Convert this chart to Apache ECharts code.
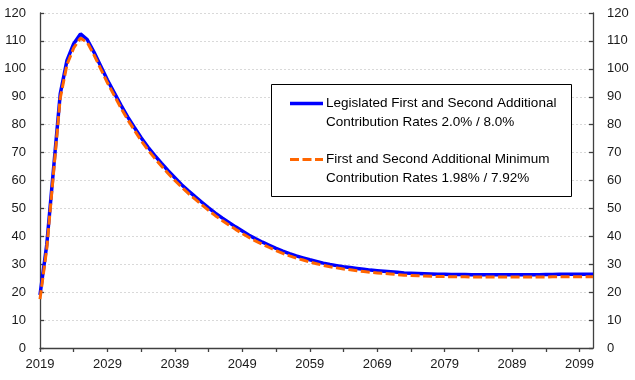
<!DOCTYPE html>
<html>
<head>
<meta charset="utf-8">
<script src="https://cdn.jsdelivr.net/npm/echarts@6/dist/echarts.min.js"></script>
<style>
html,body{margin:0;padding:0;background:#fff;}
#chart{width:635px;height:380px;}
</style>
</head>
<body>
<div id="chart"></div>
<script>
var years = [];
for (var y = 2019; y <= 2101; y++) years.push(String(y));

var seriesNames = [
  'Legislated First and Second Additional\nContribution Rates 2.0% / 8.0%',
  'First and Second Additional Minimum\nContribution Rates 1.98% / 7.92%'
];

var legislated = [
  19, 37, 64, 91, 103, 109, 112.5, 110.5, 106, 101,
  96, 91.5, 87, 82.8, 79, 75.3, 72, 69, 66.2, 63.5,
  61, 58.5, 56.3, 54.2, 52.2, 50.2, 48.3, 46.6, 45, 43.4,
  41.9, 40.4, 39.1, 37.9, 36.8, 35.7, 34.7, 33.8, 33, 32.3,
  31.6, 31, 30.4, 29.9, 29.5, 29.1, 28.8, 28.5, 28.2, 27.9,
  27.7, 27.5, 27.3, 27.1, 26.9, 26.8, 26.7, 26.6, 26.5, 26.4,
  26.4, 26.3, 26.3, 26.3, 26.2, 26.2, 26.2, 26.2, 26.2, 26.2,
  26.2, 26.2, 26.2, 26.2, 26.2, 26.3, 26.3, 26.4, 26.4, 26.4,
  26.4, 26.4, 26.4
];

var minimum = [
  17.5, 35.5, 62.5, 89.5, 101.5, 107.5, 111, 109.5, 105, 100,
  95, 90.5, 86, 81.8, 78, 74.3, 71, 68, 65.2, 62.5,
  60, 57.6, 55.4, 53.3, 51.3, 49.3, 47.4, 45.7, 44.1, 42.5,
  41, 39.6, 38.3, 37.1, 36, 34.9, 33.9, 33, 32.2, 31.5,
  30.8, 30.2, 29.6, 29.1, 28.7, 28.3, 28, 27.7, 27.4, 27.1,
  26.9, 26.7, 26.5, 26.3, 26.1, 26, 25.9, 25.8, 25.7, 25.6,
  25.6, 25.5, 25.5, 25.5, 25.4, 25.4, 25.4, 25.4, 25.4, 25.4,
  25.4, 25.4, 25.4, 25.4, 25.4, 25.4, 25.5, 25.5, 25.5, 25.5,
  25.5, 25.5, 25.5
];

var font = 'Liberation Sans';
var axisColor = '#404040';

var chart = echarts.init(document.getElementById('chart'), null, {renderer: 'canvas'});
var valueAxisBase = {
  type: 'value', min: 0, max: 120, interval: 10,
  axisLine: {show: true, lineStyle: {color: axisColor, width: 1.3}},
  axisTick: {show: true, inside: true, length: 4, lineStyle: {color: axisColor, width: 1.3}},
  axisLabel: {fontFamily: font, fontSize: 13, color: '#1a1a1a', margin: 14}
};
chart.setOption({
  animation: false,
  backgroundColor: '#ffffff',
  grid: {left: 40, right: 42, top: 13, bottom: 32, containLabel: false},
  xAxis: {
    type: 'category', data: years, boundaryGap: false,
    axisLine: {lineStyle: {color: axisColor, width: 1.3}},
    axisTick: {show: true, interval: 4, length: 4, lineStyle: {color: axisColor, width: 1.3}},
    axisLabel: {interval: 9, fontFamily: font, fontSize: 13, color: '#1a1a1a', margin: 10},
    splitLine: {show: false}
  },
  yAxis: [
    Object.assign({}, valueAxisBase, {
      position: 'left',
      splitLine: {show: true, lineStyle: {color: '#d9d9d9', type: [2, 2], width: 1}}
    }),
    Object.assign({}, valueAxisBase, {
      position: 'right',
      splitLine: {show: false}
    })
  ],
  series: [
    {
      name: seriesNames[0], type: 'line', data: legislated, yAxisIndex: 0,
      showSymbol: false, symbol: 'none',
      lineStyle: {color: '#0000ff', width: 3.5}, z: 2
    },
    {
      name: seriesNames[1], type: 'line', data: minimum, yAxisIndex: 0,
      showSymbol: false, symbol: 'none',
      lineStyle: {color: '#ff6600', width: 3, type: [9, 3.5]}, z: 3
    }
  ],
  graphic: [
    {type: 'rect', shape: {x: 271.5, y: 84.5, width: 300, height: 112},
     style: {fill: '#ffffff', stroke: '#000000', lineWidth: 1}, z: 10},
    {type: 'line', shape: {x1: 290, y1: 103.5, x2: 323, y2: 103.5},
     style: {stroke: '#0000ff', lineWidth: 3.5}, z: 11},
    {type: 'text', x: 326, y: 93.5,
     style: {text: seriesNames[0], fill: '#000', font: '13.5px "Liberation Sans"', lineHeight: 19.5, verticalAlign: 'top'}, z: 11},
    {type: 'line', shape: {x1: 290, y1: 159.5, x2: 323, y2: 159.5},
     style: {stroke: '#ff6600', lineWidth: 3, lineDash: [9, 3.5]}, z: 11},
    {type: 'text', x: 326, y: 149.5,
     style: {text: seriesNames[1], fill: '#000', font: '13.5px "Liberation Sans"', lineHeight: 19.5, verticalAlign: 'top'}, z: 11}
  ]
});
</script>
</body>
</html>
